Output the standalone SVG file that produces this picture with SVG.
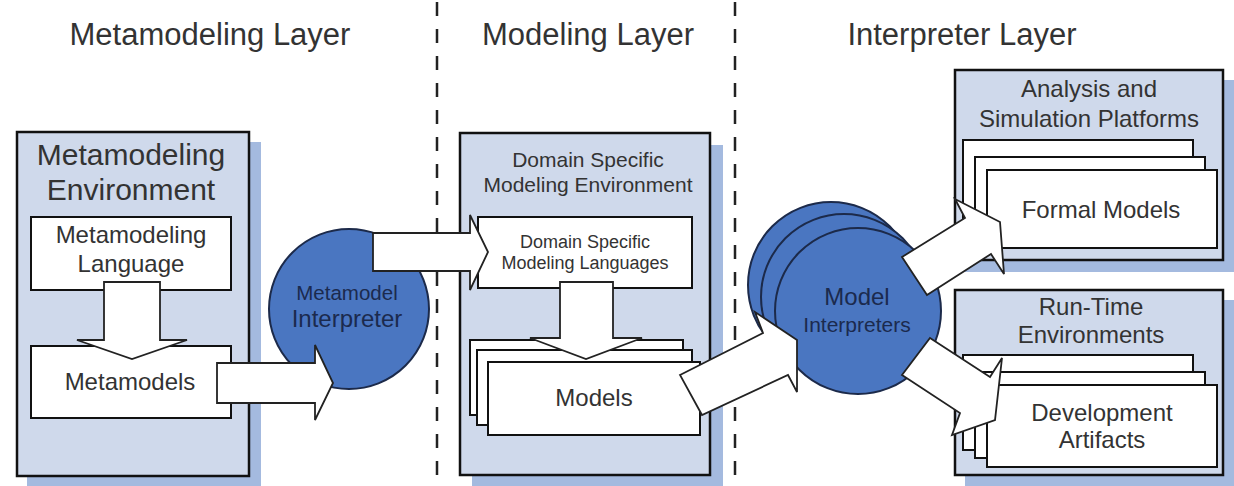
<svg xmlns="http://www.w3.org/2000/svg" width="1234" height="486" viewBox="0 0 1234 486">
<style>
text{font-family:"Liberation Sans",Arial,sans-serif;text-anchor:middle;fill:#333}
.hdr{font-size:31px}
.sep{stroke:#222;stroke-width:2.5;stroke-dasharray:14 13;fill:none}
.shadow{fill:#a4badf}
.outer{fill:#cfd9eb;stroke:#111;stroke-width:2.5}
.inner{fill:#fff;stroke:#111;stroke-width:2}
.circ{fill:#4a76c1;stroke:#1c2a4a;stroke-width:2}
.ctext{fill:#1b2a4e}
.arrow{fill:#fff;stroke:#222;stroke-width:1.8;stroke-linejoin:miter}
</style>
<rect width="1234" height="486" fill="#fff"/>
<g id="separators">
<line class="sep" x1="437" y1="2" x2="437" y2="486"/>
<line class="sep" x1="735" y1="2" x2="735" y2="486"/>
</g>
<g id="headers">
<text class="hdr" x="210" y="45">Metamodeling Layer</text>
<text class="hdr" x="588" y="45">Modeling Layer</text>
<text class="hdr" x="962" y="45">Interpreter Layer</text>
</g>
<g id="metamodeling-environment">
<rect class="shadow" x="27" y="142" width="234" height="344"/>
<rect class="outer" x="17" y="132" width="232" height="344"/>
<text x="131" y="165" font-size="30">Metamodeling</text>
<text x="131" y="200" font-size="30">Environment</text>
</g>
<g id="metamodeling-language">
<rect class="inner" x="31" y="217" width="200" height="73"/>
<text x="131" y="243" font-size="24">Metamodeling</text>
<text x="131" y="272" font-size="24">Language</text>
</g>
<g id="metamodels">
<rect class="inner" x="31" y="346" width="200" height="72"/>
<text x="130" y="390" font-size="24">Metamodels</text>
</g>
<g id="metamodel-interpreter">
<circle class="circ" cx="349" cy="309" r="80"/>
<text class="ctext" x="347" y="300" font-size="20.5">Metamodel</text>
<text class="ctext" x="347" y="327" font-size="24">Interpreter</text>
</g>
<g id="dsm-environment">
<rect class="shadow" x="472" y="145" width="251" height="341"/>
<rect class="outer" x="460" y="133" width="250" height="342"/>
<text x="588" y="167" font-size="21">Domain Specific</text>
<text x="588" y="192" font-size="21">Modeling Environment</text>
</g>
<g id="dsml">
<rect class="inner" x="478" y="217" width="214" height="71"/>
<text x="585" y="248" font-size="18">Domain Specific</text>
<text x="585" y="269" font-size="18">Modeling Languages</text>
</g>
<g id="models">
<rect class="inner" x="470" y="340" width="213" height="75"/>
<rect class="inner" x="477" y="350" width="215" height="75"/>
<rect class="inner" x="488" y="362" width="212" height="73"/>
<text x="594" y="406" font-size="24">Models</text>
</g>
<g id="model-interpreters">
<circle class="circ" cx="831" cy="285" r="83"/>
<circle class="circ" cx="844" cy="297" r="83"/>
<circle class="circ" cx="858" cy="311" r="83"/>
<text class="ctext" x="857" y="305" font-size="24">Model</text>
<text class="ctext" x="857" y="332" font-size="21">Interpreters</text>
</g>
<g id="analysis-simulation">
<rect class="shadow" x="965" y="80" width="269" height="192"/>
<rect class="outer" x="955" y="70" width="268" height="190"/>
<text x="1089" y="97" font-size="24">Analysis and</text>
<text x="1089" y="127" font-size="24">Simulation Platforms</text>
</g>
<g id="formal-models">
<rect class="inner" x="963" y="140" width="230" height="92"/>
<rect class="inner" x="975" y="157" width="230" height="83"/>
<rect class="inner" x="987" y="170" width="230" height="78"/>
<text x="1101" y="218" font-size="24">Formal Models</text>
</g>
<g id="runtime-environments">
<rect class="shadow" x="965" y="300" width="269" height="186"/>
<rect class="outer" x="955" y="290" width="268" height="185"/>
<text x="1091" y="315" font-size="24">Run-Time</text>
<text x="1091" y="343" font-size="24">Environments</text>
</g>
<g id="development-artifacts">
<rect class="inner" x="963" y="355" width="230" height="95"/>
<rect class="inner" x="975" y="372" width="230" height="86"/>
<rect class="inner" x="987" y="385" width="230" height="82"/>
<text x="1102" y="421" font-size="24">Development</text>
<text x="1102" y="448" font-size="24">Artifacts</text>
</g>
<g id="connectors">
<path class="arrow" d="M104,282 H160 V340 H187 L132,359 L77,340 H104 Z"/>
<path class="arrow" d="M560,282 H613 V338 H642 L586,359 L530,338 H560 Z"/>
<path class="arrow" d="M217,363 H315 V345 L333,383 L315,420 V403 H217 Z"/>
<path class="arrow" d="M373,233 H470 V215 L488,252 L470,290 V271 H373 Z"/>
<path class="arrow" d="M680,375 L763,333 L755,312 L797,340 L797,392 L788,375 L702,415 Z"/>
<path class="arrow" d="M902,257 L965,218 L955,199 L1000,222 L1004,274 L991,254 L927,295 Z"/>
<path class="arrow" d="M930,338 L990,377 L1002,358 L995,420 L952,435 L960,413 L902,375 Z"/>
</g>
</svg>
